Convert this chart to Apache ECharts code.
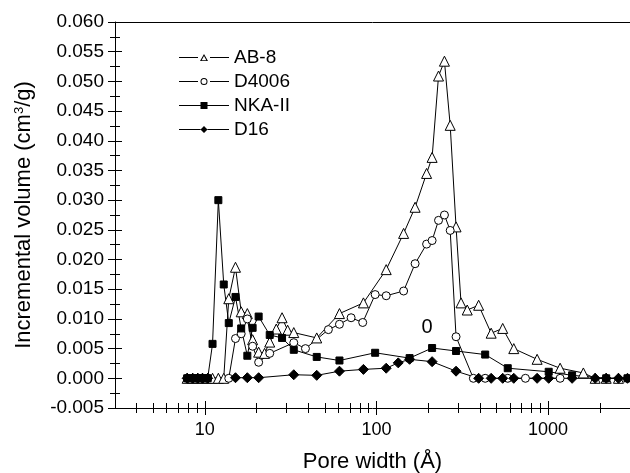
<!DOCTYPE html>
<html>
<head>
<meta charset="utf-8">
<script src="https://cdn.jsdelivr.net/npm/echarts@6/dist/echarts.min.js"></script>
<style>
  html, body { margin: 0; padding: 0; background: #fff; }
  #chart { width: 630px; height: 473px; }
</style>
</head>
<body>
<div id="chart"></div>
<script>
// pore width (Å) and incremental volume (cm3/g)
const ab8X = [7.9, 8.5, 9.1, 9.7, 10.4, 11.1, 12.0, 12.9, 13.8, 15.1, 16.3, 17.7, 19.0, 20.6, 22.3, 23.9, 26.1, 28.2, 30.4, 33.0, 44.9, 60.9, 84.0, 114, 144, 168, 196, 211, 230, 249, 269, 291, 311, 338, 394, 466, 544, 631, 863, 1175, 1605, 1880, 2180, 2570]
const ab8Y = [0, 0, 0, 0, 0, 0, 0, 0, 0.0134, 0.0187, 0.0112, 0.0109, 0.0065, 0.0044, 0.0042, 0.0061, 0.0083, 0.0102, 0.0081, 0.0077, 0.0068, 0.0109, 0.0127, 0.0183, 0.0244, 0.0288, 0.0345, 0.0372, 0.0509, 0.0534, 0.0426, 0.0255, 0.0127, 0.0115, 0.0123, 0.0076, 0.0084, 0.0050, 0.0032, 0.0017, 0.0009, 0, 0, 0]

const d4006X = [7.9, 8.5, 9.1, 9.7, 10.4, 13.8, 15.1, 16.3, 17.7, 19.0, 20.6, 23.9, 33.0, 38.6, 52.5, 60.9, 71.2, 83.2, 98.3, 114, 144, 168, 196, 211, 230, 249, 269, 291, 367, 430, 582, 738, 1175]
const d4006Y = [0, 0, 0, 0, 0, 0, 0.0067, 0.0075, 0.0100, 0.0054, 0.0027, 0.0042, 0.0060, 0.0050, 0.0082, 0.0091, 0.0102, 0.0094, 0.0141, 0.0139, 0.0147, 0.0193, 0.0226, 0.0232, 0.0266, 0.0275, 0.0249, 0.0070, 0, 0, 0, 0, 0]

const nkaX = [7.9, 8.5, 9.1, 9.7, 10.4, 11.1, 12.0, 12.9, 13.8, 15.1, 16.3, 17.7, 19.0, 20.6, 23.9, 28.2, 33.0, 44.9, 60.9, 98.3, 156, 211, 291, 430, 582, 1008, 1380, 2180, 2900]
const nkaY = [0, 0, 0, 0, 0, 0.0058, 0.0300, 0.0158, 0.0093, 0.0137, 0.0084, 0.0038, 0.0085, 0.0104, 0.0073, 0.0068, 0.0048, 0.0036, 0.0030, 0.0043, 0.0034, 0.0051, 0.0046, 0.0040, 0.0017, 0.0011, 0.0005, 0, 0]

const d16X = [7.9, 8.5, 9.1, 9.7, 10.4, 15.1, 17.7, 20.6, 33.0, 44.9, 60.9, 84.0, 114, 134, 156, 211, 291, 394, 466, 544, 631, 863, 1008, 1380, 1880, 2180, 2570, 2900]
const d16Y = [0, 0, 0, 0, 0, 0.0001, 0.0001, 0.0001, 0.0006, 0.0005, 0.0012, 0.0015, 0.0017, 0.0026, 0.0032, 0.0028, 0.0012, 0, 0, 0, 0, 0, 0, 0, 0, 0, 0, 0]

const seriesNames = ['AB-8', 'D4006', 'NKA-II', 'D16']

// axis ticks
const xLabelVals = [10, 100, 1000]
const xMinorVals = [4, 5, 6, 7, 8, 9, 20, 30, 40, 50, 60, 70, 80, 90, 200, 300, 400, 500, 600, 700, 800, 900, 2000]

const FONT = '"Liberation Sans", Arial, sans-serif'
const zip = (xs, ys) => xs.map((x, i) => [x, ys[i]])

// legend icons: line - marker - line, in a 50x7 box
const LINES = 'M0,3H19V4H0Z M31,3H50V4H31Z '
const legendIcons = [
  'path://' + LINES + 'M21,7L25,0L29,7Z M22.7,6.2L27.3,6.2L25,2Z',
  'path://' + LINES + 'M21.5,3.5A3.5,3.5,0,1,1,28.5,3.5A3.5,3.5,0,1,1,21.5,3.5Z M22.5,3.5A2.5,2.5,0,1,0,27.5,3.5A2.5,2.5,0,1,0,22.5,3.5Z',
  'path://M0,3H21.5V4H0Z M28.5,3H50V4H28.5Z M21.5,0H28.5V7H21.5Z',
  'path://M0,3H21.5V4H0Z M28.5,3H50V4H28.5Z M25,0L28.5,3.5L25,7L21.5,3.5Z',
]

const chart = echarts.init(document.getElementById('chart'))

const tickX = (vals, off, len) => ({
  type: 'log', position: 'bottom', min: 3, max: 3000, offset: off,
  axisLine: { show: false, onZero: false },
  axisTick: { show: true, customValues: vals, length: len, lineStyle: { color: '#000', width: 1 } },
  axisLabel: { show: false }, splitLine: { show: false },
})
const tickY = (step, off, len) => ({
  type: 'value', position: 'left', min: -0.005, max: 0.06, interval: step, offset: off,
  axisLine: { show: false, onZero: false },
  axisTick: { show: true, length: len, lineStyle: { color: '#000', width: 1 } },
  axisLabel: { show: false }, splitLine: { show: false },
})

const lineSeries = (name, xs, ys, symbol, size, fill) => ({
  name, type: 'line', data: zip(xs, ys),
  symbol, symbolSize: size, showAllSymbol: true,
  lineStyle: { color: '#000', width: 1 },
  itemStyle: { color: fill, borderColor: '#000', borderWidth: 1 },
  emphasis: { disabled: true },
  xAxisIndex: 0, yAxisIndex: 0,
})

chart.setOption({
  animation: false,
  backgroundColor: '#fff',
  textStyle: { fontFamily: FONT },
  grid: { left: 115, right: 0, top: 22, bottom: 65, containLabel: false, outerBoundsMode: 'none' },
  legend: {
    data: seriesNames.map((n, i) => ({ name: n, icon: legendIcons[i] })),
    orient: 'vertical', left: 179, top: 48,
    itemWidth: 50, itemHeight: 7, itemGap: 5, padding: 0,
    itemStyle: { color: '#000', borderWidth: 0 },
    textStyle: { fontSize: 19, color: '#000', fontFamily: FONT },
  },
  xAxis: [
    {
      type: 'log', position: 'bottom', min: 3, max: 3000,
      axisLine: { onZero: false, lineStyle: { color: '#000', width: 1 } },
      axisTick: { show: false }, splitLine: { show: false },
      axisLabel: { customValues: xLabelVals, formatter: v => String(v), color: '#000', fontSize: 18, fontFamily: FONT, margin: 13 },
      name: 'Pore width (Å)', nameLocation: 'middle', nameGap: 43,
      nameTextStyle: { fontSize: 22, color: '#000', fontFamily: FONT },
    },
    tickX(xLabelVals, -7, 14),
    tickX(xMinorVals, -5, 10),
    {
      type: 'log', position: 'top', min: 3, max: 3000,
      axisLine: { onZero: false, lineStyle: { color: '#000', width: 1 } },
      axisTick: { show: false }, axisLabel: { show: false }, splitLine: { show: false },
    },
  ],
  yAxis: [
    {
      type: 'value', position: 'left', min: -0.005, max: 0.06, interval: 0.005,
      axisLine: { show: true, onZero: false, lineStyle: { color: '#000', width: 1 } },
      axisTick: { show: false }, splitLine: { show: false },
      axisLabel: { formatter: v => v.toFixed(3), color: '#000', fontSize: 19, fontFamily: FONT, margin: 11 },
      name: 'Incremental volume (cm{sup|3}/g)', nameLocation: 'middle', nameGap: 80,
      nameTextStyle: {
        fontSize: 22, color: '#000', fontFamily: FONT,
        rich: { sup: { fontSize: 13, verticalAlign: 'top', color: '#000', fontFamily: FONT } },
      },
    },
    tickY(0.005, -7, 14),
    tickY(0.0025, -5, 10),
  ],
  graphic: [
    { type: 'text', x: 427, y: 327, style: { text: '0', fontSize: 20, fontFamily: FONT, fill: '#000', align: 'center', verticalAlign: 'middle' } },
  ],
  series: [
    lineSeries('AB-8', ab8X, ab8Y, 'triangle', 10, '#fff'),
    lineSeries('D4006', d4006X, d4006Y, 'circle', 8, '#fff'),
    lineSeries('NKA-II', nkaX, nkaY, 'rect', 7, '#000'),
    lineSeries('D16', d16X, d16Y, 'diamond', 10, '#000'),
  ],
})
</script>
</body>
</html>
